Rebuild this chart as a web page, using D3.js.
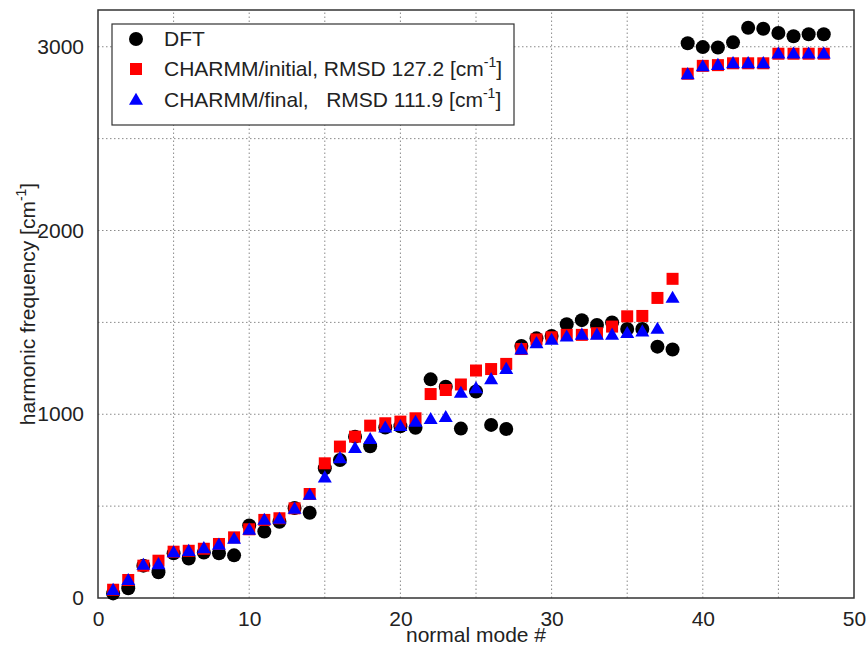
<!DOCTYPE html>
<html>
<head>
<meta charset="utf-8">
<script src="https://cdn.jsdelivr.net/npm/d3@7"></script>
<style>
  html, body { margin: 0; padding: 0; background: #fff; }
  svg { display: block; font-family: "Liberation Sans", Arial, Helvetica, sans-serif; }
</style>
</head>
<body>
<svg id="chart" width="868" height="648"></svg>
<script>
// Normal mode index
const modes = [1, 2, 3, 4, 5, 6, 7, 8, 9, 10, 11, 12, 13, 14, 15, 16, 17, 18, 19, 20, 21, 22, 23, 24,
               25, 26, 27, 28, 29, 30, 31, 32, 33, 34, 35, 36, 37, 38, 39, 40, 41, 42, 43, 44, 45, 46, 47, 48];

// Harmonic frequencies [cm^-1]
const dft = [25, 53, 176, 140, 243, 215, 247, 243, 232, 395, 362, 415, 490, 464, 706, 751,
             878, 826, 928, 935, 926, 1190, 1150, 922, 1124, 942, 920, 1372, 1413, 1426, 1490, 1512,
             1486, 1500, 1464, 1464, 1368, 1352, 3019, 2998, 2996, 3024, 3103, 3098, 3075, 3057, 3068, 3068];

const charmmInitial = [45, 98, 176, 203, 252, 257, 268, 294, 330, 374, 425, 434, 488, 566, 733, 824,
                       878, 938, 951, 960, 978, 1110, 1132, 1162, 1238, 1246, 1274, 1355, 1407, 1419, 1432, 1432,
                       1441, 1477, 1533, 1535, 1633, 1737, 2853, 2896, 2900, 2910, 2910, 2910, 2962, 2962, 2962, 2962];

const charmmFinal = [43, 97, 180, 183, 248, 255, 270, 289, 321, 371, 425, 430, 485, 561, 655, 760,
                     815, 864, 927, 935, 958, 973, 984, 1116, 1141, 1190, 1246, 1352, 1386, 1404, 1422, 1432,
                     1432, 1432, 1441, 1450, 1464, 1633, 2850, 2893, 2900, 2910, 2910, 2910, 2962, 2962, 2962, 2962];

// Axis ticks
const xGridTicks = [5, 10, 15, 20, 25, 30, 35, 40, 45];
const xLabelTicks = [0, 10, 20, 30, 40, 50];
const yGridTicks = [500, 1000, 1500, 2000, 2500, 3000];
const yLabelTicks = [0, 1000, 2000, 3000];

const W = 868, H = 648;
const margin = { top: 10, right: 14, bottom: 50, left: 98 };
const fontSize = 21;

const svg = d3.select("#chart");

const x = d3.scaleLinear().domain([0, 50]).range([margin.left, W - margin.right]);
const y = d3.scaleLinear().domain([0, 3200]).range([H - margin.bottom, margin.top]);

const textColor = "#222";

// Dotted grid
const grid = svg.append("g").attr("stroke", "#8a8a8a").attr("stroke-width", 1)
  .attr("stroke-dasharray", "1.5,2.5");
grid.selectAll("line.vx").data(xGridTicks).join("line")
  .attr("x1", d => x(d)).attr("x2", d => x(d))
  .attr("y1", y.range()[0]).attr("y2", y.range()[1]);
grid.selectAll("line.hy").data(yGridTicks).join("line")
  .attr("y1", d => y(d)).attr("y2", d => y(d))
  .attr("x1", x.range()[0]).attr("x2", x.range()[1]);

// Axes (labels only; frame drawn separately)
const xAxis = d3.axisBottom(x).tickValues(xLabelTicks).tickFormat(d3.format("d"))
  .tickSize(0).tickPadding(13);
const gx = svg.append("g").attr("transform", `translate(0,${y(0)})`).call(xAxis);
gx.select(".domain").remove();
gx.selectAll("text").attr("font-size", fontSize).attr("fill", textColor)
  .attr("font-family", "Liberation Sans, Arial, sans-serif");

const yAxis = d3.axisLeft(y).tickValues(yLabelTicks).tickFormat(d3.format("d"))
  .tickSize(0).tickPadding(14);
const gy = svg.append("g").attr("transform", `translate(${x(0)},0)`).call(yAxis);
gy.select(".domain").remove();
gy.selectAll("text").attr("font-size", fontSize).attr("fill", textColor)
  .attr("font-family", "Liberation Sans, Arial, sans-serif");

// Plot frame
svg.append("rect")
  .attr("x", x.range()[0]).attr("y", y.range()[1])
  .attr("width", x.range()[1] - x.range()[0])
  .attr("height", y.range()[0] - y.range()[1])
  .attr("fill", "none").attr("stroke", "#333").attr("stroke-width", 1.5);

// Axis titles
svg.append("text")
  .attr("x", (x.range()[0] + x.range()[1]) / 2).attr("y", 642)
  .attr("text-anchor", "middle").attr("font-size", fontSize).attr("fill", textColor)
  .text("normal mode #");

const yt = svg.append("text")
  .attr("transform", `translate(35,${(y.range()[0] + y.range()[1]) / 2}) rotate(-90)`)
  .attr("text-anchor", "middle").attr("font-size", fontSize).attr("fill", textColor);
yt.append("tspan").text("harmonic frequency [cm");
yt.append("tspan").attr("font-size", 14).attr("dy", -9).text("-1");
yt.append("tspan").attr("dy", 9).text("]");

// Marker shapes
const sqSize = 12;
const triPath = (cx, cy) => {
  const s = 14, h = s * Math.sqrt(3) / 2;
  return `M${cx},${cy - h * 0.6}L${cx + s / 2},${cy + h * 0.4}L${cx - s / 2},${cy + h * 0.4}Z`;
};

const plot = svg.append("g");

plot.append("g").selectAll("circle").data(modes).join("circle")
  .attr("cx", (d) => x(d)).attr("cy", (d, i) => y(dft[i]))
  .attr("r", 7).attr("fill", "#000");

plot.append("g").selectAll("rect").data(modes).join("rect")
  .attr("x", (d) => x(d) - sqSize / 2).attr("y", (d, i) => y(charmmInitial[i]) - sqSize / 2)
  .attr("width", sqSize).attr("height", sqSize).attr("fill", "#ff0000");

plot.append("g").selectAll("path").data(modes).join("path")
  .attr("d", (d, i) => triPath(x(d), y(charmmFinal[i])))
  .attr("fill", "#0000ff");

// Legend
const lg = svg.append("g");
lg.append("rect").attr("x", 112).attr("y", 24).attr("width", 402).attr("height", 101)
  .attr("fill", "#fff").attr("stroke", "#333").attr("stroke-width", 1.2);

const legendItems = [
  { name: "DFT", sup: null, row: 39 },
  { name: "CHARMM/initial, RMSD 127.2 [cm", sup: "-1", row: 69 },
  { name: "CHARMM/final,   RMSD 111.9 [cm", sup: "-1", row: 100 }
];

lg.append("circle").attr("cx", 136).attr("cy", legendItems[0].row).attr("r", 7).attr("fill", "#000");
lg.append("rect").attr("x", 136 - sqSize / 2).attr("y", legendItems[1].row - sqSize / 2)
  .attr("width", sqSize).attr("height", sqSize).attr("fill", "#ff0000");
lg.append("path").attr("d", triPath(136, legendItems[2].row)).attr("fill", "#0000ff");

legendItems.forEach(it => {
  const t = lg.append("text").attr("x", 164).attr("y", it.row + 7)
    .attr("font-size", fontSize).attr("fill", textColor).attr("xml:space", "preserve")
    .style("white-space", "pre");
  t.append("tspan").text(it.name);
  if (it.sup) {
    t.append("tspan").attr("font-size", 14).attr("dy", -9).text(it.sup);
    t.append("tspan").attr("dy", 9).text("]");
  }
});
</script>
</body>
</html>
